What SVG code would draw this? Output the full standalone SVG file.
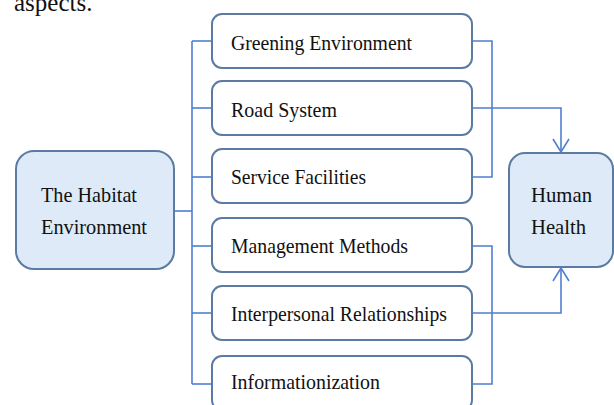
<svg xmlns="http://www.w3.org/2000/svg" width="614" height="405" viewBox="0 0 614 405">
<style>
.box{fill:#ffffff;stroke:#5b7ba3;stroke-width:2}
.side{fill:#deeaf7;stroke:#5b7ba3;stroke-width:2}
.t{font-family:"Liberation Serif","Times New Roman",serif;font-size:21.5px;fill:#111}
.c{fill:none;stroke:#4f7fd0;stroke-width:1.6}
.hd{fill:none;stroke:#4f7fd0;stroke-width:1.6}
</style>
<text x="14" y="11" style="font-family:'Liberation Serif','Times New Roman',serif;font-size:25px;fill:#111">aspects.</text>
<g id="connectors">
<polyline class="c" points="174,211 192,211"/>
<polyline class="c" points="192,41 192,384"/>
<polyline class="c" points="192,41 212,41"/>
<polyline class="c" points="192,108 212,108"/>
<polyline class="c" points="192,177 212,177"/>
<polyline class="c" points="192,246 212,246"/>
<polyline class="c" points="192,313 212,313"/>
<polyline class="c" points="192,384 212,384"/>
<polyline class="c" points="472,41 492,41 492,177 472,177"/>
<polyline class="c" points="472,246 492,246 492,384 472,384"/>
<polyline class="c" points="472,108 561,108 561,152"/>
<polyline class="hd" points="553,139 561,152 569,139"/>
<polyline class="c" points="472,313 561,313 561,268"/>
<polyline class="hd" points="553,281 561,268 569,281"/>
</g>
<g id="habitat">
<rect class="side" x="16" y="151" width="158" height="118" rx="18"/>
<text class="t" x="41" y="202" textLength="96" lengthAdjust="spacingAndGlyphs">The Habitat</text>
<text class="t" x="41" y="234" textLength="106" lengthAdjust="spacingAndGlyphs">Environment</text>
</g>
<g id="health">
<rect class="side" x="509" y="153" width="104" height="114" rx="16"/>
<text class="t" x="531" y="202" textLength="61" lengthAdjust="spacingAndGlyphs">Human</text>
<text class="t" x="531" y="234" textLength="55" lengthAdjust="spacingAndGlyphs">Health</text>
</g>
<g id="greening">
<rect class="box" x="212" y="14" width="260" height="54" rx="10"/>
<text class="t" x="231" y="50" textLength="181" lengthAdjust="spacingAndGlyphs">Greening Environment</text>
</g>
<g id="road">
<rect class="box" x="212" y="81" width="260" height="54" rx="10"/>
<text class="t" x="231" y="117" textLength="106" lengthAdjust="spacingAndGlyphs">Road System</text>
</g>
<g id="service">
<rect class="box" x="212" y="149" width="260" height="54" rx="10"/>
<text class="t" x="231" y="184" textLength="135" lengthAdjust="spacingAndGlyphs">Service Facilities</text>
</g>
<g id="management">
<rect class="box" x="212" y="218" width="260" height="54" rx="10"/>
<text class="t" x="231" y="253" textLength="177" lengthAdjust="spacingAndGlyphs">Management Methods</text>
</g>
<g id="interpersonal">
<rect class="box" x="212" y="286" width="260" height="54" rx="10"/>
<text class="t" x="231" y="321" textLength="216" lengthAdjust="spacingAndGlyphs">Interpersonal Relationships</text>
</g>
<g id="informationization">
<rect class="box" x="212" y="356" width="260" height="54" rx="10"/>
<text class="t" x="231" y="389" textLength="149" lengthAdjust="spacingAndGlyphs">Informationization</text>
</g>
</svg>
